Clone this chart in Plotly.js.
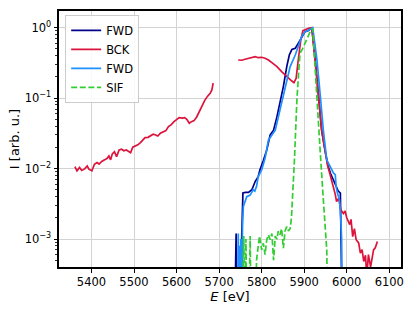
<!DOCTYPE html>
<html>
<head>
<meta charset="utf-8">
<script src="https://cdn.plot.ly/plotly-3.0.1.min.js"></script>
<style>html,body{margin:0;padding:0;background:#fff;}#chart{width:415px;height:312px;}</style>
</head>
<body>
<div id="chart"></div>
<script>
// FWD (navy)
const fwd1E = [5737,5740,5742,5750,5753,5756,5762,5769,5777,5780,5785,5792,5796,5804,5812,5820,5828,5836,5843,5851,5859,5865,5871,5879,5886,5894,5902,5910,5918,5926,5934,5941,5949,5956,5962,5968,5974,5980,5985,5987,5989];
const fwd1I = [1e-4,0.0012,1e-4,1e-4,0.001,0.0045,0.0046,0.0046,0.005,0.0056,0.0066,0.0077,0.0096,0.013,0.0184,0.03,0.035,0.0547,0.085,0.146,0.28,0.41,0.49,0.51,0.6,0.745,0.88,0.91,1.0,0.348,0.105,0.035,0.018,0.011,0.0085,0.007,0.0055,0.0048,0.0045,0.0008,1e-4];

// BCK (crimson), two segments separated by a gap
const bckE = [5361,5366,5372,5377,5384,5390,5394,5401,5407,5413,5418,5424,5431,5437,5441,5445,5449,5454,5459,5465,5471,5476,5482,5487,5492,5497,5503,5509,5515,5521,5526,5533,5539,5545,5551,5556,5562,5569,5575,5581,5587,5594,5600,5606,5613,5619,5624,5630,5635,5641,5647,5653,5660,5666,5672,5679,5683,5686,
  null,
  5745,5753,5761,5773,5785,5792,5800,5808,5816,5824,5836,5847,5859,5871,5876,5881,5886,5892,5897,5905,5912,5918,5926,5934,5941,5949,5955,5960,5965,5969,5973,5976,5981,5986,5992,5996,6000,6007,6010,6014,6018,6022,6028,6032,6036,6040,6044,6047,6051,6056,6059,6063,6067,6072];
const bckI = [0.0107,0.0093,0.0104,0.0094,0.0099,0.0109,0.0098,0.0093,0.0115,0.0122,0.0116,0.0126,0.0133,0.014,0.0151,0.0133,0.0162,0.0174,0.0148,0.0184,0.0188,0.0179,0.0184,0.0174,0.0168,0.0201,0.021,0.0217,0.0234,0.0255,0.0275,0.0278,0.0294,0.0308,0.03,0.029,0.0318,0.0335,0.0346,0.0394,0.0417,0.0464,0.0502,0.0529,0.052,0.0529,0.0502,0.0441,0.0464,0.0479,0.0536,0.0644,0.0776,0.0922,0.105,0.117,0.131,0.163,
  null,
  0.348,0.345,0.356,0.375,0.388,0.375,0.38,0.368,0.348,0.319,0.28,0.238,0.202,0.175,0.166,0.191,0.348,0.67,0.906,0.96,0.99,1.0,0.35,0.1,0.035,0.018,0.011,0.0086,0.0068,0.0056,0.0043,0.0034,0.0038,0.0026,0.0023,0.0025,0.002,0.0016,0.0019,0.00108,0.0014,0.00098,0.00088,0.00063,0.00071,0.00048,0.00059,0.0003,0.0006,0.0004,0.00053,0.0007,0.00075,0.00092];

// FWD (dodger blue)
const fwd2E = [5744,5745,5746,5748,5749,5751,5753,5755,5757,5765,5773,5780,5784,5788,5792,5800,5808,5816,5824,5832,5843,5855,5867,5879,5886,5894,5902,5910,5920,5930,5938,5945,5953,5961,5969,5973,5975,5978,5983,5986,5988,5989];
const fwd2I = [1e-4,0.0012,1e-4,0.0008,1e-4,0.001,1e-4,0.0015,0.0029,0.004,0.0042,0.005,0.0048,0.0056,0.0077,0.0096,0.014,0.0255,0.03,0.035,0.068,0.146,0.28,0.41,0.54,0.745,0.88,0.92,1.0,0.348,0.105,0.035,0.0133,0.0107,0.0086,0.0082,0.0056,0.0045,0.0036,0.0019,0.001,1e-4];

// SIF (green dashed)
const sifE = [5755,5758,5760,5763,5765,5770,5773,5775,5786,5788,5792,5795,5800,5804,5808,5812,5816,5820,5824,5828,5832,5836,5839,5843,5847,5851,5855,5859,5863,5867,5870,5874,5877,5883,5887,5890,5896,5902,5910,5916,5920,5926,5931,5935,5938,5945,5950,5953,5955];
const sifI = [1e-4,0.0011,1e-4,0.001,1e-4,1e-4,0.0011,1e-4,1e-4,0.0005,0.0008,0.0011,0.0007,0.00087,0.0006,0.00098,0.00115,0.00098,0.0012,0.0005,0.0011,0.001,0.0013,0.00115,0.0014,0.00074,0.0013,0.0015,0.0013,0.0014,0.002,0.005,0.013,0.1,0.3,0.43,0.5,0.6,0.78,0.93,0.98,0.22,0.06,0.03,0.016,0.0036,0.0012,0.0007,1e-4];

const xTicks = [5400,5500,5600,5700,5800,5900,6000,6100];
const yTickVals = [1e-3,1e-2,1e-1,1];
const yTickText = ['10<sup>−3</sup>','10<sup>−2</sup>','10<sup>−1</sup>','10<sup>0</sup>'];

const F = 'DejaVu Sans, sans-serif';
const LW = 1.7;
const traces = [
  {x: fwd1E, y: fwd1I, name: 'FWD', mode: 'lines', line: {color: '#00008B', width: LW}},
  {x: bckE, y: bckI, name: 'BCK', mode: 'lines', connectgaps: false, line: {color: '#DC143C', width: LW}},
  {x: fwd2E, y: fwd2I, name: 'FWD', mode: 'lines', line: {color: '#1E90FF', width: LW}},
  {x: sifE, y: sifI, name: 'SIF', mode: 'lines', line: {color: '#32CD32', width: LW, dash: '6px,2.6px'}}
];

const layout = {
  width: 415, height: 312,
  margin: {l: 59, r: 14, t: 11, b: 45},
  paper_bgcolor: '#fff', plot_bgcolor: '#fff',
  font: {family: F, size: 11.5, color: '#000'},
  showlegend: true,
  legend: {x: 0.018, y: 0.985, xanchor: 'left', yanchor: 'top',
           bgcolor: 'rgba(255,255,255,0.85)', bordercolor: '#cccccc', borderwidth: 1,
           font: {family: F, size: 11.5}, tracegroupgap: 0},
  xaxis: {range: [5323.7, 6127.5], tickvals: xTicks, ticks: 'outside', ticklen: 3.5, tickwidth: 1,
          tickcolor: '#000', showline: true, linecolor: '#000', linewidth: 2, mirror: true,
          showgrid: true, gridcolor: '#d3d3d3', gridwidth: 1, zeroline: false,
          tickfont: {family: F, size: 11.5},
          title: {text: '<i>E</i> [eV]', font: {family: F, size: 13}, standoff: 3}},
  yaxis: {type: 'log', range: [-3.397, 0.237], tickvals: yTickVals, ticktext: yTickText,
          ticks: 'outside', ticklen: 3.5, tickwidth: 1, tickcolor: '#000',
          showline: true, linecolor: '#000', linewidth: 2, mirror: true,
          showgrid: true, gridcolor: '#d3d3d3', gridwidth: 1, zeroline: false,
          tickfont: {family: F, size: 11.5},
          minor: {ticks: 'outside', ticklen: 2, tickwidth: 0.8, tickcolor: '#000', dtick: 'D1', showgrid: false},
          title: {text: 'I [arb. u.]', font: {family: F, size: 13}, standoff: 2}}
};

Plotly.newPlot('chart', traces, layout, {staticPlot: true, displayModeBar: false});
</script>
</body>
</html>
